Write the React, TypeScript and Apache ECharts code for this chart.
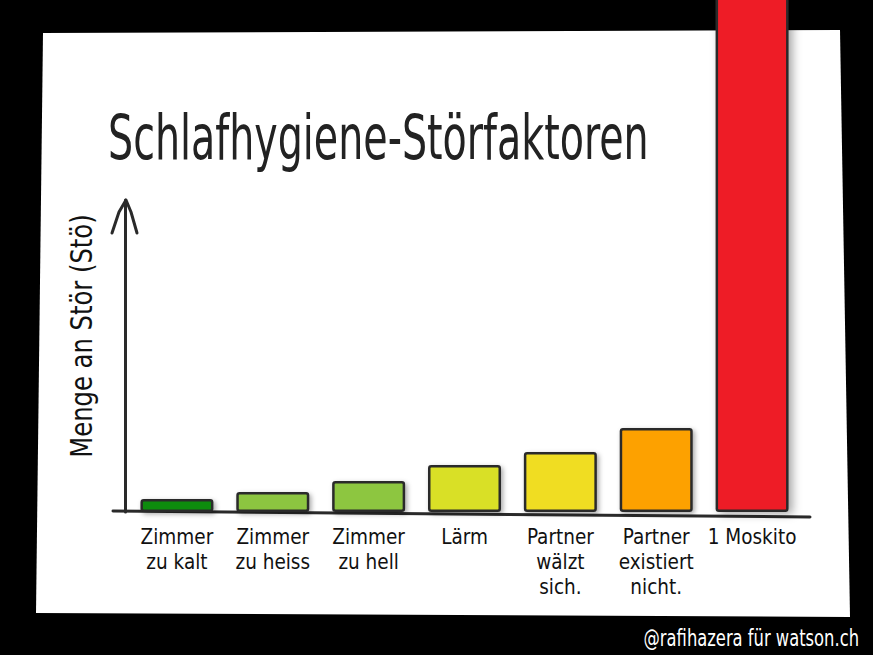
import React, { useEffect, useRef } from "react";
import * as echarts from "echarts";

const categories = [
  "Zimmer\nzu kalt",
  "Zimmer\nzu heiss",
  "Zimmer\nzu hell",
  "Lärm",
  "Partner\nwälzt\nsich.",
  "Partner\nexistiert\nnicht.",
  "1 Moskito",
];
const values = [4.2, 6.4, 9.9, 15.1, 19.2, 26.9, 170];
const barColors = ["#0a8c0e", "#8cc53f", "#8dc63f", "#d9e026", "#f0dd24", "#fda100", "#ee1c26"];
const titleText = "Schlafhygiene-Störfaktoren";
const yAxisTitle = "Menge an Stör (Stö)";
const creditText = "@rafihazera für watson.ch";

const FONT = "'Liberation Sans Narrow', 'DejaVu Sans Condensed', 'Noto Sans', sans-serif";

export default function App() {
  const ref = useRef<HTMLDivElement>(null);
  useEffect(() => {
    if (!ref.current) return;
    const chart = echarts.init(ref.current, null, { renderer: "svg" });
    chart.setOption({
      animation: false,
      backgroundColor: "#000",
      grid: { left: 129, right: 73, top: 200, bottom: 143 },
      xAxis: {
        type: "category",
        data: categories,
        axisLine: { show: false },
        axisTick: { show: false },
        axisLabel: {
          interval: 0,
          color: "#111",
          fontFamily: FONT,
          fontSize: 20.5,
          lineHeight: 25,
          margin: 12,
        },
      },
      yAxis: {
        type: "value",
        min: 0,
        max: 100,
        offset: 4,
        axisLine: { show: true, lineStyle: { color: "#2a2a2a", width: 3 } },
        axisTick: { show: false },
        axisLabel: { show: false },
        splitLine: { show: false },
      },
      series: [
        {
          type: "bar",
          data: values.map((v, i) => ({
            value: v,
            itemStyle: {
              color: barColors[i],
              shadowBlur: i === 6 ? 10 : 5,
              shadowColor: "rgba(0,0,0,0.35)",
              shadowOffsetX: i === 6 ? 4 : 2,
              shadowOffsetY: 2,
            },
          })),
          barWidth: 73,
          clip: false,
          itemStyle: { borderColor: "#2a2a2a", borderWidth: 2.5, borderRadius: 2 },
          z: 3,
        },
      ],
      graphic: [
        {
          type: "polygon",
          z: -10,
          shape: { points: [[43, 33], [840, 30], [850, 617], [36, 613]] },
          style: { fill: "#fff" },
        },
        {
          type: "line",
          z: 2,
          shape: { x1: 113, y1: 511, x2: 810, y2: 517 },
          style: { stroke: "#2a2a2a", lineWidth: 3, lineCap: "round" },
        },
        {
          type: "polyline",
          z: 2,
          shape: { points: [[112, 233], [119, 212], [126, 200], [131, 212], [137, 233]] },
          style: { stroke: "#2a2a2a", lineWidth: 3, fill: null, lineCap: "round", lineJoin: "round" },
        },
        {
          type: "text",
          z: 5,
          x: 108,
          y: 107,
          scaleX: 0.71,
          style: {
            text: titleText,
            fill: "#222",
            font: `62px ${FONT}`,
            verticalAlign: "top",
            align: "left",
          },
        },
        {
          type: "text",
          z: 5,
          x: 81,
          y: 336,
          rotation: Math.PI / 2,
          scaleX: 0.87,
          style: {
            text: yAxisTitle,
            fill: "#111",
            font: `31px ${FONT}`,
            align: "center",
            verticalAlign: "middle",
          },
        },
        {
          type: "text",
          z: 5,
          x: 859,
          y: 650,
          scaleX: 0.79,
          style: {
            text: creditText,
            fill: "#fff",
            font: `23px ${FONT}`,
            align: "right",
            verticalAlign: "bottom",
          },
        },
      ],
    });
    return () => chart.dispose();
  }, []);
  return (
    <div
      ref={ref}
      style={{ position: "fixed", left: 0, top: 0, width: 873, height: 655 }}
    />
  );
}
